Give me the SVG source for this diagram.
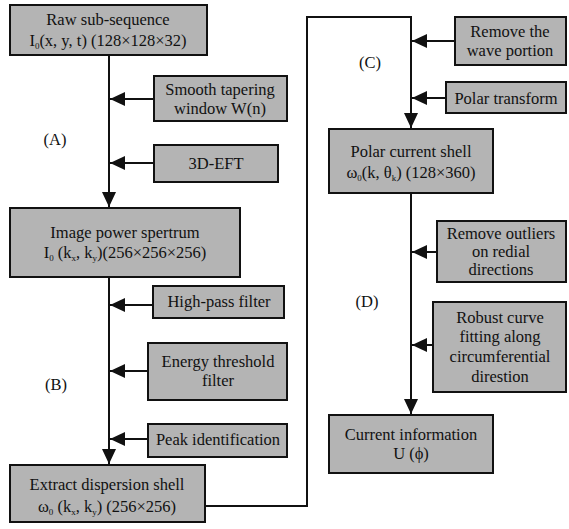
<svg xmlns="http://www.w3.org/2000/svg" width="569" height="529" viewBox="0 0 569 529">
<defs>
<style>
.box{fill:#b4b4b4;stroke:#111;stroke-width:2}
.t{font-size:16.5px;fill:#111;text-anchor:middle}
.s{font-size:9px}
.ln{fill:none;stroke:#111;stroke-width:2}
</style>
<marker id="ah" markerUnits="userSpaceOnUse" markerWidth="16" markerHeight="16" viewBox="0 0 16 16" refX="15" refY="8" orient="auto">
<path d="M0,1 L15,8 L0,15 Z" fill="#111"/>
</marker>
</defs>
<rect width="569" height="529" fill="#fff"/>
<g id="connectors">
<path class="ln" d="M109,55 V207" marker-end="url(#ah)"/>
<path class="ln" d="M109,277 V464" marker-end="url(#ah)"/>
<path class="ln" d="M154,99 H110" marker-end="url(#ah)"/>
<path class="ln" d="M154,163 H110" marker-end="url(#ah)"/>
<path class="ln" d="M153,305 H110" marker-end="url(#ah)"/>
<path class="ln" d="M148,371 H110" marker-end="url(#ah)"/>
<path class="ln" d="M148,439 H110" marker-end="url(#ah)"/>
<path class="ln" d="M205,506 H307 V17 H411 V128" marker-end="url(#ah)"/>
<path class="ln" d="M455,41 H412" marker-end="url(#ah)"/>
<path class="ln" d="M446,98 H412" marker-end="url(#ah)"/>
<path class="ln" d="M411,193 V414" marker-end="url(#ah)"/>
<path class="ln" d="M437,252 H412" marker-end="url(#ah)"/>
<path class="ln" d="M433,345 H412" marker-end="url(#ah)"/>
</g>
<g font-family="'Liberation Serif', 'Times New Roman', serif">
<g id="raw">
<rect class="box" x="10" y="5" width="197" height="50"/>
<text class="t" x="108" y="25">Raw sub-sequence</text>
<text class="t" x="108" y="46">I<tspan class="s" dy="3">0</tspan><tspan dy="-3">(x, y, t) (128×128×32)</tspan></text>
</g>
<g id="smooth">
<rect class="box" x="154" y="76" width="133" height="45"/>
<text class="t" x="220" y="95">Smooth tapering</text>
<text class="t" x="220" y="114">window W(n)</text>
</g>
<g id="eft">
<rect class="box" x="154" y="145" width="124" height="37"/>
<text class="t" x="216" y="169">3D-EFT</text>
</g>
<g id="labelA"><text class="t" x="55" y="145">(A)</text></g>
<g id="power">
<rect class="box" x="10" y="208" width="230" height="69"/>
<text class="t" x="125" y="238">Image power spertrum</text>
<text class="t" x="125" y="258">I<tspan class="s" dy="3">0</tspan><tspan dy="-3"> (k</tspan><tspan class="s" dy="3">x</tspan><tspan dy="-3">, k</tspan><tspan class="s" dy="3">y</tspan><tspan dy="-3">)(256×256×256)</tspan></text>
</g>
<g id="highpass">
<rect class="box" x="153" y="286" width="131" height="32"/>
<text class="t" x="219" y="307">High-pass filter</text>
</g>
<g id="energy">
<rect class="box" x="148" y="343" width="139" height="57"/>
<text class="t" x="218" y="367">Energy threshold</text>
<text class="t" x="218" y="386">filter</text>
</g>
<g id="labelB"><text class="t" x="56" y="390">(B)</text></g>
<g id="peak">
<rect class="box" x="148" y="424" width="139" height="33"/>
<text class="t" x="218" y="445">Peak identification</text>
</g>
<g id="extract">
<rect class="box" x="10" y="465" width="195" height="57"/>
<text class="t" x="107" y="490">Extract dispersion shell</text>
<text class="t" x="107" y="512">ω<tspan class="s" dy="3">0</tspan><tspan dy="-3"> (k</tspan><tspan class="s" dy="3">x</tspan><tspan dy="-3">, k</tspan><tspan class="s" dy="3">y</tspan><tspan dy="-3">) (256×256)</tspan></text>
</g>
<g id="wave">
<rect class="box" x="455" y="17" width="111" height="48"/>
<text class="t" x="510" y="37">Remove the</text>
<text class="t" x="510" y="56">wave portion</text>
</g>
<g id="labelC"><text class="t" x="370" y="68">(C)</text></g>
<g id="polart">
<rect class="box" x="446" y="82" width="120" height="31"/>
<text class="t" x="506" y="104">Polar transform</text>
</g>
<g id="polarshell">
<rect class="box" x="329" y="129" width="164" height="64"/>
<text class="t" x="411" y="157">Polar current shell</text>
<text class="t" x="411" y="178">ω<tspan class="s" dy="3">0</tspan><tspan dy="-3">(k, θ</tspan><tspan class="s" dy="3">k</tspan><tspan dy="-3">) (128×360)</tspan></text>
</g>
<g id="outliers">
<rect class="box" x="437" y="221" width="129" height="61"/>
<text class="t" x="501" y="239">Remove outliers</text>
<text class="t" x="501" y="257">on redial</text>
<text class="t" x="501" y="275">directions</text>
</g>
<g id="labelD"><text class="t" x="367" y="307">(D)</text></g>
<g id="robust">
<rect class="box" x="433" y="302" width="133" height="90"/>
<text class="t" x="500" y="323">Robust curve</text>
<text class="t" x="500" y="342">fitting along</text>
<text class="t" x="500" y="362">circumferential</text>
<text class="t" x="500" y="382">direstion</text>
</g>
<g id="current">
<rect class="box" x="329" y="415" width="164" height="58"/>
<text class="t" x="411" y="440">Current information</text>
<text class="t" x="411" y="459">U (ϕ)</text>
</g>
</g>
</svg>
